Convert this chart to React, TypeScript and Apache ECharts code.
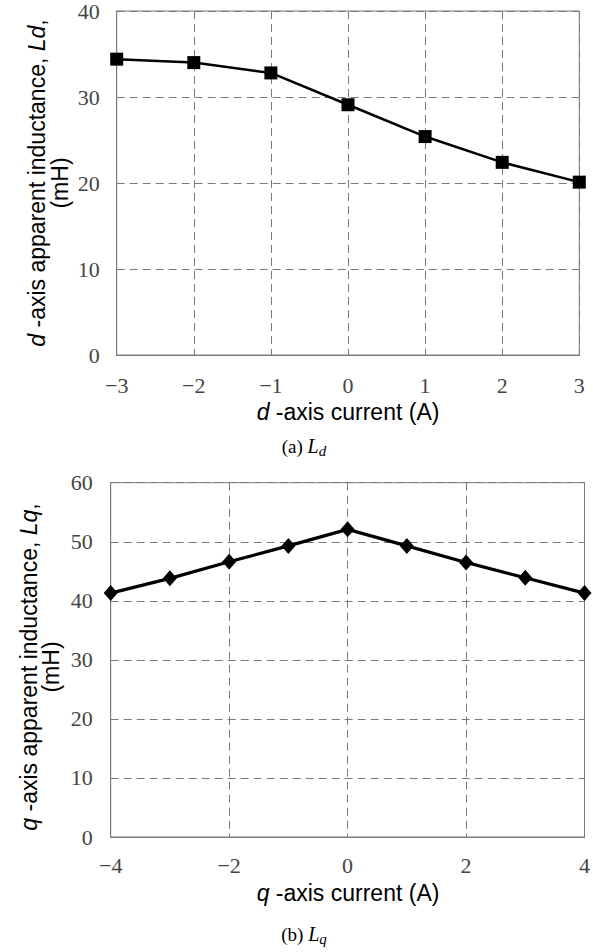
import React, { useEffect, useRef } from "react";
import * as echarts from "echarts";

const dCurrent = [-3, -2, -1, 0, 1, 2, 3];
const ldValues = [34.4, 34.0, 32.8, 29.1, 25.4, 22.4, 20.1];
const qCurrent = [-4, -3, -2, -1, 0, 1, 2, 3, 4];
const lqValues = [41.3, 43.8, 46.6, 49.3, 52.1, 49.3, 46.5, 43.9, 41.3];

const GRID_COLOR = "#7a7a7a";
const SANS = "'Liberation Sans', Arial, sans-serif";
const SERIF = "'Liberation Serif', 'Times New Roman', serif";
const TITLE_SIZE = 23;

const fmt = (v: number) => (v < 0 ? "\u2212" + Math.abs(v) : String(v));

export default function App() {
  const ref = useRef<HTMLDivElement>(null);
  useEffect(() => {
    if (!ref.current) return;
    const chart = echarts.init(ref.current, undefined, { renderer: "svg" });
    const axisCommon = {
      axisLine: { show: true, onZero: false, lineStyle: { color: GRID_COLOR, width: 1 } },
      axisTick: { show: false },
      splitLine: { show: true, lineStyle: { color: GRID_COLOR, type: [8, 5], width: 1 } },
    };
    const labelStyle = { fontFamily: SERIF, fontSize: 22, color: "#444", formatter: fmt };
    const italic = { fontFamily: SANS, fontSize: TITLE_SIZE, fontStyle: "italic", fill: "#000" };
    const capRich = {
      i: { fontFamily: SERIF, fontSize: 20, fontStyle: "italic", fill: "#000" },
      s: { fontFamily: SERIF, fontSize: 15, fontStyle: "italic", fill: "#000", padding: [9, 0, 0, 0] },
    };
    chart.setOption({
      animation: false,
      backgroundColor: "#fff",
      grid: [
        { left: 116.7, top: 10.3, width: 462.6, height: 344.7, show: true, borderColor: GRID_COLOR, borderWidth: 1 },
        { left: 110.7, top: 482.7, width: 477.6, height: 354.3, show: true, borderColor: GRID_COLOR, borderWidth: 1 },
      ],
      xAxis: [
        { type: "value", gridIndex: 0, min: -3, max: 3, interval: 1, ...axisCommon, axisLabel: { ...labelStyle, margin: 19 } },
        { type: "value", gridIndex: 1, min: -4, max: 4, interval: 2, ...axisCommon, axisLabel: { ...labelStyle, margin: 17 } },
      ],
      yAxis: [
        { type: "value", gridIndex: 0, min: 0, max: 40, interval: 10, ...axisCommon, axisLabel: { ...labelStyle, margin: 17 } },
        { type: "value", gridIndex: 1, min: 0, max: 60, interval: 10, ...axisCommon, axisLabel: { ...labelStyle, margin: 18 } },
      ],
      series: [
        {
          type: "line",
          xAxisIndex: 0,
          yAxisIndex: 0,
          data: dCurrent.map((x, i) => [x, ldValues[i]]),
          symbol: "rect",
          symbolSize: 13,
          lineStyle: { color: "#000", width: 2.5 },
          itemStyle: { color: "#000" },
        },
        {
          type: "line",
          xAxisIndex: 1,
          yAxisIndex: 1,
          data: qCurrent.map((x, i) => [x, lqValues[i]]),
          symbol: "diamond",
          symbolSize: [14, 16],
          lineStyle: { color: "#000", width: 3.2 },
          itemStyle: { color: "#000" },
        },
      ],
      graphic: [
        {
          type: "text",
          x: 37,
          y: 183,
          rotation: Math.PI / 2,
          style: {
            text: "{i|d} -axis apparent inductance, {i|Ld},",
            fontFamily: SANS,
            fontSize: TITLE_SIZE,
            fill: "#000",
            align: "center",
            verticalAlign: "middle",
            rich: { i: italic },
          },
        },
        {
          type: "text",
          x: 60,
          y: 183,
          rotation: Math.PI / 2,
          style: { text: "(mH)", fontFamily: SANS, fontSize: TITLE_SIZE, fill: "#000", align: "center", verticalAlign: "middle" },
        },
        {
          type: "text",
          x: 348,
          y: 412,
          style: {
            text: "{i|d} -axis current (A)",
            fontFamily: SANS,
            fontSize: TITLE_SIZE,
            fill: "#000",
            align: "center",
            verticalAlign: "middle",
            rich: { i: italic },
          },
        },
        {
          type: "text",
          x: 304,
          y: 446,
          style: {
            text: "(a) {i|L}{s|d}",
            fontFamily: SERIF,
            fontSize: 19,
            fill: "#000",
            align: "center",
            verticalAlign: "middle",
            rich: capRich,
          },
        },
        {
          type: "text",
          x: 29,
          y: 667,
          rotation: Math.PI / 2,
          style: {
            text: "{i|q} -axis apparent inductance, {i|Lq},",
            fontFamily: SANS,
            fontSize: TITLE_SIZE,
            fill: "#000",
            align: "center",
            verticalAlign: "middle",
            rich: { i: italic },
          },
        },
        {
          type: "text",
          x: 51,
          y: 667,
          rotation: Math.PI / 2,
          style: { text: "(mH)", fontFamily: SANS, fontSize: TITLE_SIZE, fill: "#000", align: "center", verticalAlign: "middle" },
        },
        {
          type: "text",
          x: 348,
          y: 893,
          style: {
            text: "{i|q} -axis current (A)",
            fontFamily: SANS,
            fontSize: TITLE_SIZE,
            fill: "#000",
            align: "center",
            verticalAlign: "middle",
            rich: { i: italic },
          },
        },
        {
          type: "text",
          x: 304,
          y: 934,
          style: {
            text: "(b) {i|L}{s|q}",
            fontFamily: SERIF,
            fontSize: 19,
            fill: "#000",
            align: "center",
            verticalAlign: "middle",
            rich: capRich,
          },
        },
      ],
    });
    return () => chart.dispose();
  }, []);
  return (
    <div
      ref={ref}
      style={{ position: "absolute", left: 0, top: 0, width: 593, height: 952 }}
    />
  );
}
